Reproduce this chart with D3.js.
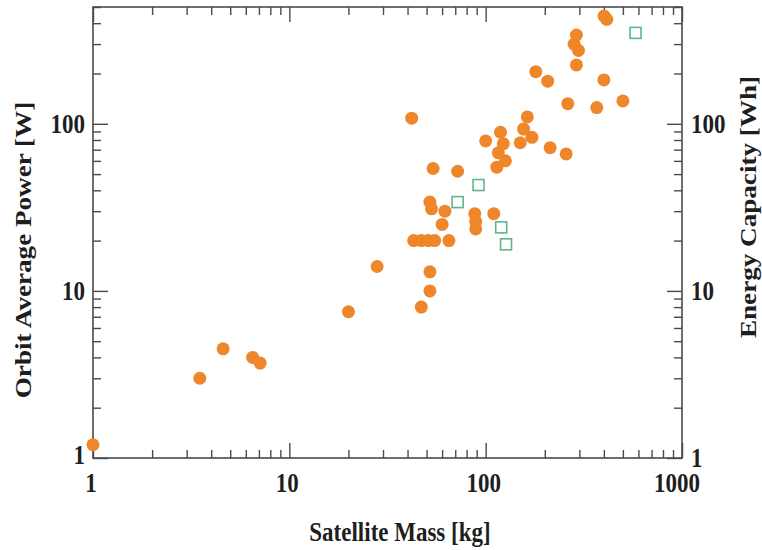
<!DOCTYPE html>
<meta charset="utf-8">
<style>
body {
  margin: 0;
  background: #fff;
}

.frame {
  fill: none;
  stroke: #4a4a4a;
  stroke-width: 1.6px;
}

.tick line {
  stroke: #4a4a4a;
  stroke-width: 1.4px;
}

.label {
  font-family: "Liberation Serif", "Times New Roman", serif;
  font-weight: bold;
  font-size: 23px;
  fill: #1e1e1e;
}

.dot {
  fill: #f0862a;
}

.sq {
  fill: none;
  stroke: #5cb88a;
  stroke-width: 1.6px;
}
</style>
<body>
<script src="https://cdn.jsdelivr.net/npm/d3@7"></script>
<script>

// satellites: mass [kg] vs orbit average power [W]
var massKg = [1, 3.5, 4.6, 6.5, 7.1, 20, 28, 42, 47, 52, 52, 43, 47, 51, 55, 65,
  60, 52, 53, 62, 54, 72, 88, 89, 89, 110, 100, 119, 123, 116, 126, 114,
  163, 156, 172, 150, 213, 257, 262, 368, 500, 400, 180, 207, 290, 297, 282, 290, 401, 414];
var powerW = [1.2, 3.0, 4.5, 4.0, 3.7, 7.5, 14, 108, 8, 10, 13, 20, 20, 20, 20, 20,
  25, 34, 31, 30, 54, 52, 29, 26, 23.5, 29, 79, 89, 76, 67, 60, 55,
  110, 93, 83, 77, 72, 66, 132, 125, 137, 183, 205, 180, 225, 275, 300, 340, 441, 422];

// satellites: mass [kg] vs energy capacity [Wh]
var batMassKg = [72, 92, 120, 127, 580];
var batEnergyWh = [34, 43, 24, 19, 350];

var xTicks = [1, 10, 100, 1000],
    yTicks = [1, 10, 100],
    xLabels = ["1", "10", "100", "1000"],
    yLabels = ["1", "10", "100"];

var width = 762,
    height = 550,
    x0 = 93, x1 = 682, y0 = 7, y1 = 458,
    stretch = 1.18; // picture is a bit taller than wide

var x = d3.scaleLog().domain([1, 1000]).range([x0, x1]),
    y = d3.scaleLog().domain([1, 500]).range([y1, y0]);

function minors(lo, hi) {
  var out = [];
  for (var d = lo; d < hi; d *= 10)
    for (var k = 2; k <= 9; k++) if (k * d <= hi) out.push(k * d);
  return out;
}

var svg = d3.select("body").append("svg")
    .attr("width", width)
    .attr("height", height);

// ticks, all pointing inward
function ticks(axis, values, size, tr) {
  var g = svg.append("g")
      .attr("transform", tr)
      .call(axis.tickValues(values).tickSize(size).tickSizeOuter(0).tickFormat(""));
  g.select(".domain").remove();
}

ticks(d3.axisBottom(x), xTicks, -15, "translate(0," + y1 + ")");
ticks(d3.axisBottom(x), minors(1, 1000), -8, "translate(0," + y1 + ")");
ticks(d3.axisTop(x), xTicks, -15, "translate(0," + y0 + ")");
ticks(d3.axisTop(x), minors(1, 1000), -8, "translate(0," + y0 + ")");
ticks(d3.axisLeft(y), yTicks, -15, "translate(" + x0 + ",0)");
ticks(d3.axisLeft(y), minors(1, 500), -8, "translate(" + x0 + ",0)");
ticks(d3.axisRight(y), yTicks, -15, "translate(" + x1 + ",0)");
ticks(d3.axisRight(y), minors(1, 500), -8, "translate(" + x1 + ",0)");

svg.append("rect")
    .attr("class", "frame")
    .attr("x", x0)
    .attr("y", y0)
    .attr("width", x1 - x0)
    .attr("height", y1 - y0);

// tick labels
svg.selectAll(".xl")
    .data(xTicks)
  .enter().append("text")
    .attr("class", "label")
    .attr("text-anchor", "middle")
    .attr("transform", function(d) { return "translate(" + (x(d) - (d === 1000 ? 5 : 2)) + ",492)scale(1," + stretch + ")"; })
    .text(function(d, i) { return xLabels[i]; });

svg.selectAll(".yl")
    .data(yTicks)
  .enter().append("text")
    .attr("class", "label")
    .attr("text-anchor", "end")
    .attr("dy", "0.33em")
    .attr("transform", function(d) { return "translate(" + (x0 - 8) + "," + (y(d) - (d === 1 ? 3 : 0)) + ")scale(1," + stretch + ")"; })
    .text(function(d, i) { return yLabels[i]; });

svg.selectAll(".yr")
    .data(yTicks)
  .enter().append("text")
    .attr("class", "label")
    .attr("text-anchor", "start")
    .attr("dy", "0.33em")
    .attr("transform", function(d) { return "translate(" + (x1 + 9) + "," + y(d) + ")scale(1," + stretch + ")"; })
    .text(function(d, i) { return yLabels[i]; });

// axis titles
svg.append("text")
    .attr("class", "label")
    .attr("text-anchor", "middle")
    .attr("transform", "translate(400,541)scale(1," + stretch + ")")
    .text("Satellite Mass [kg]");

svg.append("text")
    .attr("class", "label")
    .attr("text-anchor", "middle")
    .attr("dy", "0.35em")
    .attr("transform", "translate(23,250)rotate(-90)scale(" + stretch + ",1)")
    .text("Orbit Average Power [W]");

svg.append("text")
    .attr("class", "label")
    .attr("text-anchor", "middle")
    .attr("dy", "0.35em")
    .attr("transform", "translate(748,207)rotate(-90)scale(" + stretch + ",1)")
    .text("Energy Capacity [Wh]");

// marks
svg.selectAll(".dot")
    .data(d3.range(massKg.length))
  .enter().append("circle")
    .attr("class", "dot")
    .attr("cx", function(i) { return x(massKg[i]); })
    .attr("cy", function(i) { return y(powerW[i]); })
    .attr("r", 6.5);

var s = 11;
svg.selectAll(".sq")
    .data(d3.range(batMassKg.length))
  .enter().append("rect")
    .attr("class", "sq")
    .attr("x", function(i) { return x(batMassKg[i]) - s / 2; })
    .attr("y", function(i) { return y(batEnergyWh[i]) - s / 2; })
    .attr("width", s)
    .attr("height", s);

</script>
</body>
